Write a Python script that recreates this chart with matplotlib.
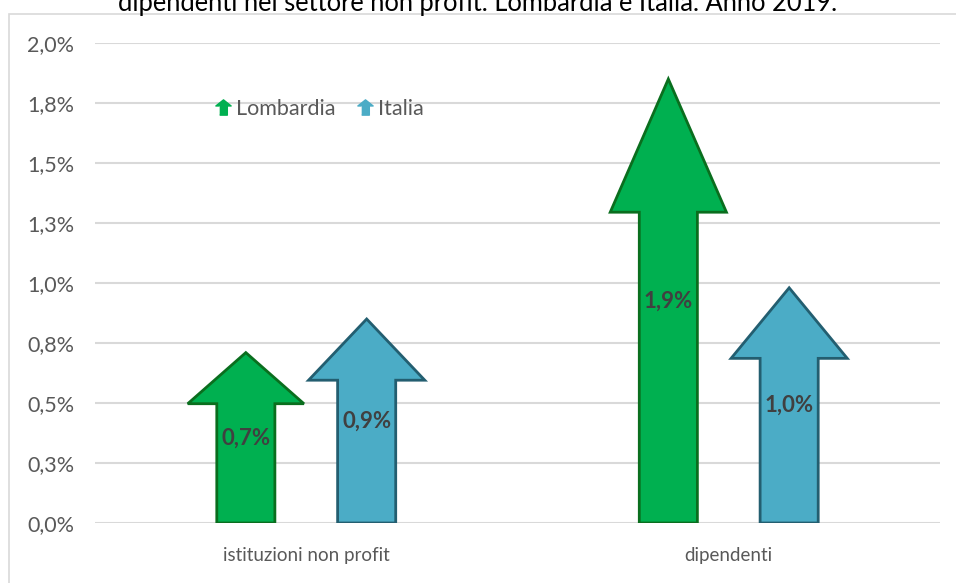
import matplotlib
matplotlib.use("Agg")
import matplotlib.pyplot as plt
from matplotlib.lines import Line2D
from matplotlib.patches import Rectangle

plt.rcParams['font.family'] = ['Lato', 'DejaVu Sans']

# dati
categorie = ['istituzioni non profit', 'dipendenti']
serie = ['Lombardia', 'Italia']
lombardia = [0.71, 1.85]
italia = [0.85, 0.98]
colori = ['#00B050', '#4BACC6']
bordi = ['#0A6E1E', '#235E70']
yticks = [0, 0.25, 0.5, 0.75, 1.0, 1.25, 1.5, 1.75, 2.0]


def fmt(v):
    # arrotondamento come Excel (half up)
    return f"{round(v + 1e-9, 1):.1f}".replace('.', ',') + '%'


def freccia(ax, xc, v, larg, fc, ec):
    # freccia con testa pari al 30% dell'altezza
    h = larg / 2
    s = larg / 4
    yb = v * 0.7
    xs = [xc - s, xc + s, xc + s, xc + h, xc, xc - h, xc - s]
    ys = [0, 0, yb, yb, v, yb, yb]
    ax.fill(xs, ys, facecolor=fc, edgecolor=ec, linewidth=2, zorder=3,
            joinstyle='miter')


fig = plt.figure(figsize=(9.56, 5.83), dpi=100)
ax = fig.add_axes([95 / 956, 1 - 523 / 583, 845 / 956, 480 / 583])

larg = 0.275
off = 0.143
for i in range(len(categorie)):
    for j, vals in enumerate([lombardia, italia]):
        xc = i + (off if j else -off)
        freccia(ax, xc, vals[i], larg, colori[j], bordi[j])
        ax.text(xc, vals[i] / 2, fmt(vals[i]), ha='center', va='center',
                fontsize=16, fontweight='bold', color='#404040', zorder=4)

ax.set_xlim(-0.5, 1.5)
ax.set_ylim(0, 2.0)
ax.set_yticks(yticks)
ax.set_yticklabels([fmt(t) for t in yticks])
ax.set_xticks(range(len(categorie)))
ax.set_xticklabels(categorie)
ax.grid(axis='y', color='#D9D9D9', linewidth=1.5, zorder=0)
ax.set_axisbelow(True)
for s in ax.spines.values():
    s.set_visible(False)
ax.tick_params(axis='y', length=0, labelsize=15.5, colors='#595959', pad=15)
ax.tick_params(axis='x', length=0, labelsize=13.5, colors='#595959', pad=17)

# legenda con piccole frecce
verts = [(-0.25, -0.5), (0.25, -0.5), (0.25, 0.1), (0.5, 0.1), (0, 0.5),
         (-0.5, 0.1), (-0.25, 0.1)]
handles = [Line2D([], [], linestyle='none', marker=verts, markersize=11,
                  markerfacecolor=c, markeredgecolor=c) for c in colori]
fig.legend(handles, serie, loc='center', bbox_to_anchor=(320 / 956, 1 - 109 / 583),
           ncol=2, frameon=False, fontsize=15.5, labelcolor='#595959',
           handlelength=0.6, handletextpad=0.3, columnspacing=1.1)

# titolo (tagliato in alto come nell'originale)
fig.text(0.5, 1 - 11 / 583, 'dipendenti nel settore non profit. Lombardia e Italia. Anno 2019.',
         ha='center', va='baseline', fontsize=18.4, color='#000000')

fig.patches.append(Rectangle((9 / 956, -0.1), 1.2, 1.1 - 14 / 583, transform=fig.transFigure,
                             fill=False, edgecolor='#D9D9D9', linewidth=1.2))

fig.savefig('out.png', dpi=100)
